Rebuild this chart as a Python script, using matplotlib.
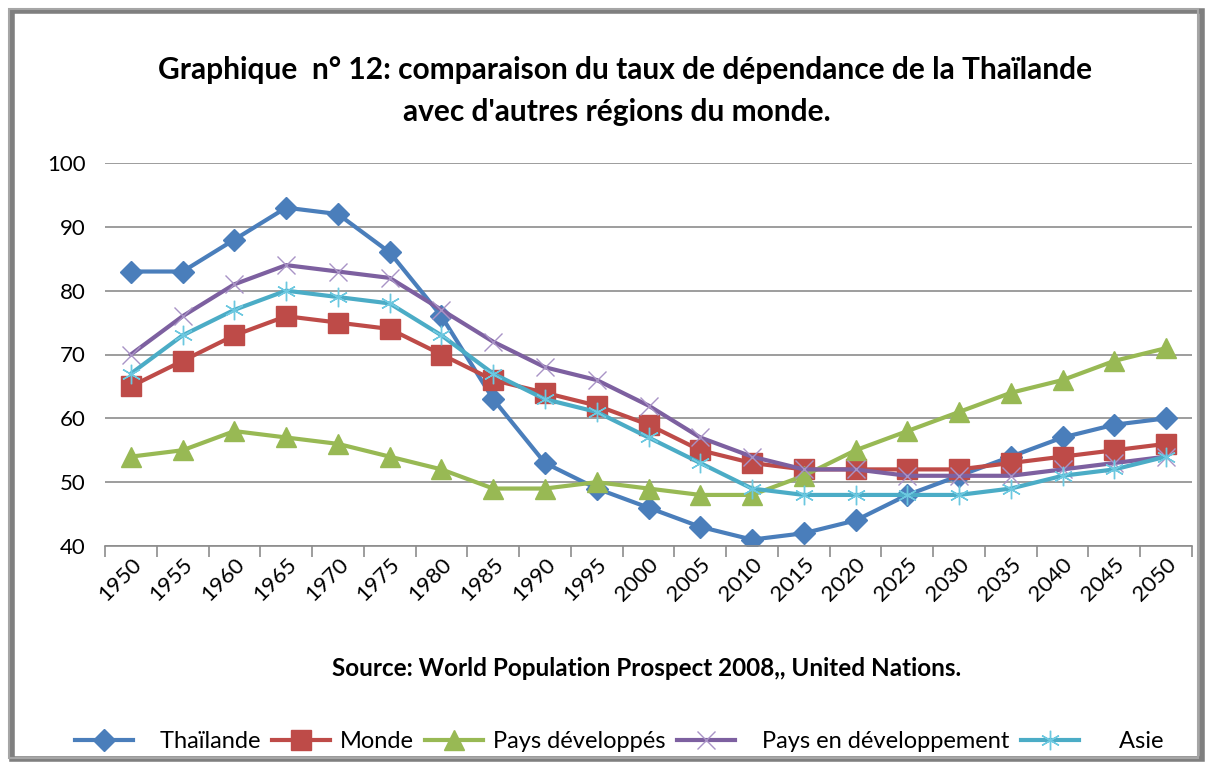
import matplotlib
matplotlib.use("Agg")
import matplotlib.pyplot as plt
from matplotlib.patches import Rectangle

years = [str(y) for y in range(1950, 2051, 5)]
thailande = [83, 83, 88, 93, 92, 86, 76, 63, 53, 49, 46, 43, 41, 42, 44, 48, 51, 54, 57, 59, 60]
monde = [65, 69, 73, 76, 75, 74, 70, 66, 64, 62, 59, 55, 53, 52, 52, 52, 52, 53, 54, 55, 56]
pays_dev = [54, 55, 58, 57, 56, 54, 52, 49, 49, 50, 49, 48, 48, 51, 55, 58, 61, 64, 66, 69, 71]
pays_en_dev = [70, 76, 81, 84, 83, 82, 77, 72, 68, 66, 62, 57, 54, 52, 52, 51, 51, 51, 52, 53, 54]
asie = [67, 73, 77, 80, 79, 78, 73, 67, 63, 61, 57, 53, 49, 48, 48, 48, 48, 49, 51, 52, 54]

plt.rcParams['font.family'] = ['Lato', 'DejaVu Sans']

fig = plt.figure(figsize=(12.08, 7.71), dpi=100)
ax = fig.add_axes([105 / 1208, 1 - 546 / 771, 1087 / 1208, 383 / 771])

x = list(range(len(years)))
ax.plot(x, thailande, color='#4A7EBB', lw=3, marker='D', ms=11, label='   Thaïlande')
ax.plot(x, monde, color='#BE4B48', lw=3, marker='s', ms=14, label='Monde')
ax.plot(x, pays_dev, color='#98B954', lw=3, marker='^', ms=14, label='Pays développés')
ax.plot(x, pays_en_dev, color='#7D60A0', lw=3, marker='x', ms=13, mew=1,
        mec='#A993C6', label='   Pays en développement')
ax.plot(x, asie, color='#4BACC6', lw=3, marker=(6, 2, 0), ms=14, mew=1,
        mec='#6CC8E0', label='     Asie')

ax.set_xlim(-0.5, len(years) - 0.5)
ax.set_ylim(40, 100)
ax.set_yticks(range(40, 101, 10))
ax.grid(axis='y', color='#8C8C8C', lw=1.2)
ax.set_axisbelow(True)
for s in ['top', 'right', 'left']:
    ax.spines[s].set_visible(False)
ax.spines['bottom'].set_color('#8C8C8C')
ax.spines['bottom'].set_linewidth(1.2)

ax.set_xticks([i - 0.5 for i in range(len(years) + 1)])
ax.set_xticklabels([])
ax.set_xticks(x, minor=True)
ax.set_xticklabels(years, minor=True, rotation=45, ha='right', rotation_mode='anchor', fontsize=16)
ax.tick_params(axis='x', which='major', length=8, color='#8C8C8C', width=1.2)
ax.tick_params(axis='x', which='minor', length=0, pad=6)
ax.tick_params(axis='y', length=0, labelsize=16, pad=14)

fig.text(625 / 1208, 1 - 70 / 771, "Graphique  n° 12: comparaison du taux de dépendance de la Thaïlande",
         ha='center', va='center', fontsize=21.5, fontweight='bold')
fig.text(617 / 1208, 1 - 112 / 771, "avec d'autres régions du monde.",
         ha='center', va='center', fontsize=21.5, fontweight='bold')
fig.text(647 / 1208, 1 - 668 / 771, "Source: World Population Prospect 2008,, United Nations.",
         ha='center', va='center', fontsize=17.5, fontweight='bold')

fig.legend(loc='center', bbox_to_anchor=(619 / 1208, 1 - 742 / 771), ncol=5, frameon=False,
           fontsize=17, handlelength=2.45, handletextpad=0.4, columnspacing=0.5)

# outer frame with shadow
fig.patches.append(Rectangle((12 / 1208, 12 / 771), 1190 / 1208, 748 / 771, transform=fig.transFigure,
                             fill=False, edgecolor='#7F7F7F', lw=4, zorder=0))
fig.patches.append(Rectangle((9 / 1208, 13 / 771), 1189 / 1208, 749 / 771, transform=fig.transFigure,
                             fill=False, edgecolor='#A6A6A6', lw=1.5, zorder=1))

fig.savefig('out.png', dpi=100)
